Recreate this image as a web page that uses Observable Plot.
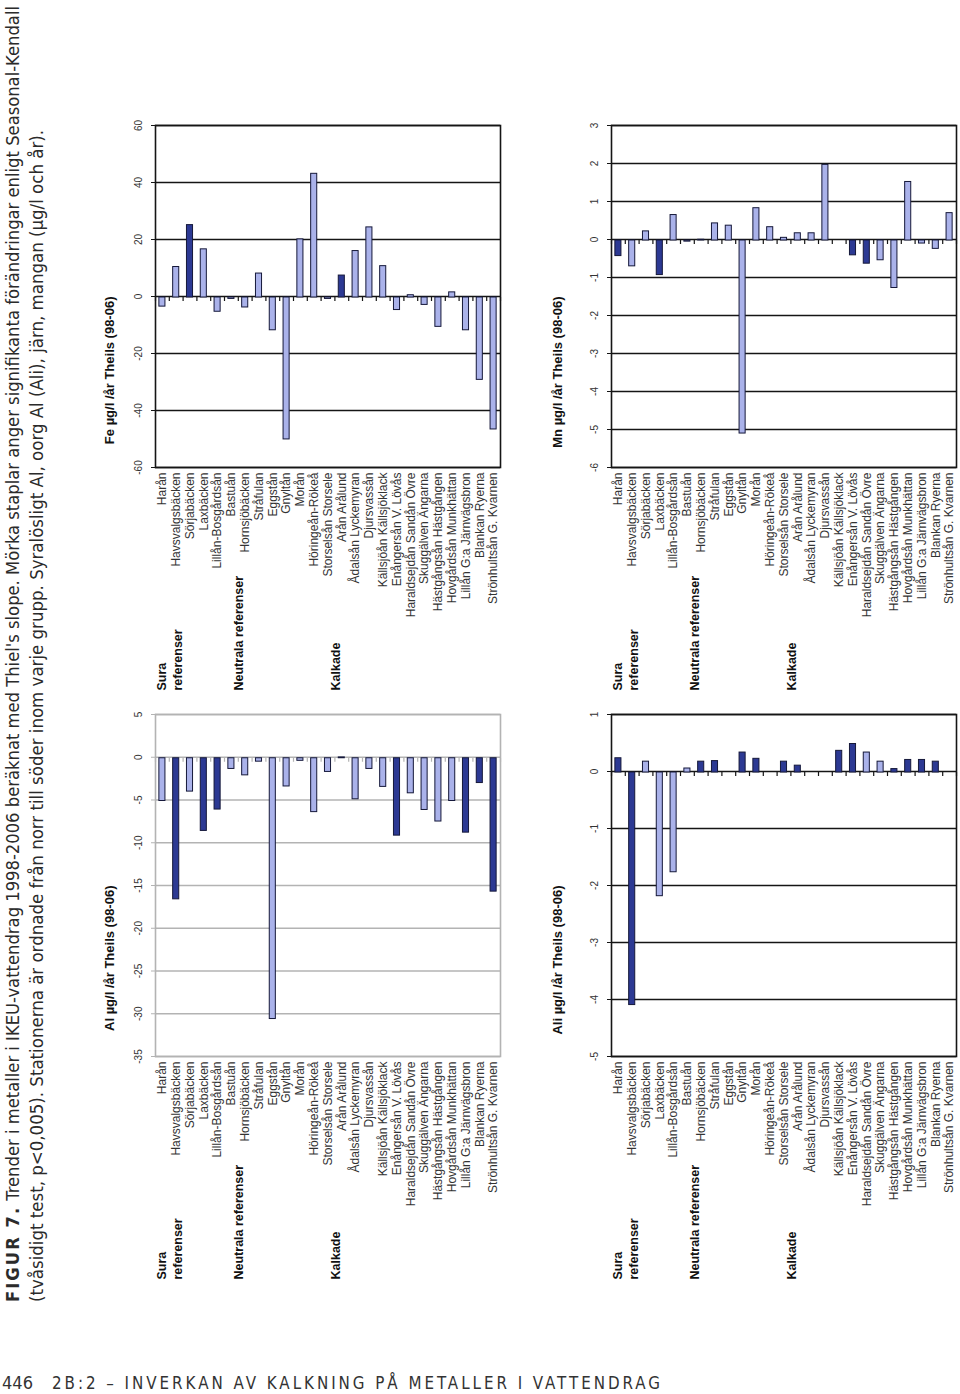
<!DOCTYPE html>
<html>
<head>
<meta charset="utf-8">
<script src="https://cdn.jsdelivr.net/npm/d3@7"></script>
<script src="https://cdn.jsdelivr.net/npm/@observablehq/plot@0.6"></script>
<style>
  html, body { margin: 0; padding: 0; background: #fff; width: 960px; height: 1394px; overflow: hidden; }
  #rot { position: absolute; left: 0; top: 0; width: 1310px; height: 960px;
         transform-origin: 0 0; transform: translate(0px, 1310px) rotate(-90deg); }
  .chart { position: absolute; line-height: 0; }
  .chart svg { display: block; }
  #caption { position: absolute; left: 0; top: 0; overflow: visible; }
  #footer { position: absolute; left: 0; top: 1366px; }
</style>
</head>
<body>
<div id="rot">
  <svg id="caption" width="1320" height="60">
    <text x="8" y="19" font-size="18" fill="#2b2b2b" textLength="1296" lengthAdjust="spacingAndGlyphs"
      font-family="'Liberation Sans Narrow','DejaVu Sans Condensed','Liberation Sans',sans-serif"><tspan font-weight="bold" letter-spacing="2">FIGUR 7.</tspan> Trender i metaller i IKEU-vattendrag 1998-2006 beräknat med Thiel's slope. Mörka staplar anger signifikanta förändringar enligt Seasonal-Kendall</text>
    <text x="8" y="43" font-size="18" fill="#2b2b2b" textLength="1172" lengthAdjust="spacingAndGlyphs"
      font-family="'Liberation Sans Narrow','DejaVu Sans Condensed','Liberation Sans',sans-serif">(tvåsidigt test, p&lt;0,005). Stationerna är ordnade från norr till söder inom varje grupp. Syralösligt Al, oorg Al (Ali), järn, mangan (µg/l och år).</text>
  </svg>
  <div id="c1" class="chart" style="left:20px;top:95px"></div>
  <div id="c2" class="chart" style="left:609px;top:95px"></div>
  <div id="c3" class="chart" style="left:20px;top:551px"></div>
  <div id="c4" class="chart" style="left:609px;top:551px"></div>
</div>
<svg id="footer" width="700" height="27">
  <text x="2" y="23" font-size="17" fill="#333" textLength="31" lengthAdjust="spacingAndGlyphs"
    font-family="'Liberation Sans Narrow','DejaVu Sans Condensed','Liberation Sans',sans-serif">446</text>
  <text x="52" y="23" font-size="17" fill="#333" letter-spacing="3" textLength="611" lengthAdjust="spacingAndGlyphs"
    font-family="'Liberation Sans Narrow','DejaVu Sans Condensed','Liberation Sans',sans-serif">2B:2 – INVERKAN AV KALKNING PÅ METALLER I VATTENDRAG</text>
</svg>
<script>
// ---- data ----
const stations = [
  "Harån", "Havsvalgsbäcken", "Sörjabäcken", "Laxbäcken", "Lillån-Bosgårdsån",
  "Bastuån", "Hornsjöbäcken", "Stråfulan", "Eggstån", "Gnyltån", "Morån",
  "Höringeån-Rökeå", "Storselsån Storsele", "Arån Arålund", "Ådalsån Lyckemyran",
  "Djursvassån", "Källsjöån Källsjöklack", "Enångersån V. Lövås",
  "Haraldsejdån Sandån Övre", "Skuggälven Ängarna", "Hästgångsån Hästgången",
  "Hovgårdsån Munkhättan", "Lillån G:a Järnvägsbron", "Blankan Ryerna",
  "Strönhultsån G. Kvarnen"
];
const groupLabels = ["Sura\nreferenser", "Neutrala referenser", "Kalkade"];
const groupAnchors = ["Harån", "Bastuån", "Storselsån Storsele"];

const alTitle = "Al µg/l /år Theils (98-06)";
const alTicks = [-35, -30, -25, -20, -15, -10, -5, 0, 5];
const alValues = [-5.0, -16.5, -3.9, -8.5, -6.0, -1.25, -2.0, -0.4, -30.5, -3.3, -0.3, -6.3, -1.6,
                  0.1, -4.8, -1.25, -3.35, -9.05, -4.1, -6.05, -7.4, -5.0, -8.7, -2.9, -15.6];
const alSig = [0,1,0,1,1,0,0,0,0,0,0,0,0,0,0,0,0,1,0,0,0,0,1,1,1];

const feTitle = "Fe µg/l /år Theils (98-06)";
const feTicks = [-60, -40, -20, 0, 20, 40, 60];
const feValues = [-3.2, 10.7, 25.4, 16.9, -5.0, -0.5, -3.5, 8.4, -11.5, -49.8, 20.4, 43.4, -0.5,
                  7.7, 16.3, 24.6, 11.0, -4.4, 0.8, -2.6, -10.3, 1.8, -11.5, -28.9, -46.3];
const feSig = [0,0,1,0,0,0,0,0,0,0,0,0,0,1,0,0,0,0,0,0,0,0,0,0,0];

const aliTitle = "Ali µg/l /år Theils (98-06)";
const aliTicks = [-5, -4, -3, -2, -1, 0, 1];
const aliValues = [0.25, -4.08, 0.19, -2.17, -1.75, 0.07, 0.19, 0.2, 0, 0.35, 0.24, 0, 0.19,
                   0.12, 0, 0, 0.38, 0.5, 0.35, 0.19, 0.06, 0.22, 0.22, 0.19, 0];
const aliSig = [1,1,0,0,0,0,1,1,0,1,1,0,1,1,0,0,1,1,0,0,1,1,1,1,0];

const mnTitle = "Mn µg/l /år Theils (98-06)";
const mnTicks = [-6, -5, -4, -3, -2, -1, 0, 1, 2, 3];
const mnValues = [-0.41, -0.68, 0.24, -0.91, 0.67, -0.03, 0.02, 0.45, 0.39, -5.08, 0.85, 0.35, 0.07,
                  0.19, 0.19, 1.99, 0, -0.39, -0.61, -0.52, -1.25, 1.54, -0.08, -0.22, 0.72];
const mnSig = [1,0,0,1,0,0,0,0,0,0,0,0,0,0,0,0,0,1,1,0,0,0,0,0,0];

// ---- drawing ----
const LIGHT = "#aab2ea", DARK = "#2c3993";
const W = 580, H = 415, ML = 233, MR = 5, MT = 60, MB = 10;
const step = (H - MT - MB) / stations.length;

function chart(values, sig, ticks, title, grid, titleDy) {
  const data = stations.map((s, i) => ({station: s, value: values[i], sig: sig[i]}));
  const groups = groupLabels.map((g, i) => ({label: g, station: groupAnchors[i]}));
  const fmt = d => String(d);
  return Plot.plot({
    width: W, height: H,
    marginLeft: ML, marginRight: MR, marginTop: MT, marginBottom: MB,
    style: {fontFamily: "'Liberation Sans', Arial, sans-serif", background: "transparent", color: "#333", overflow: "visible"},
    x: {domain: [ticks[0], ticks[ticks.length - 1]]},
    y: {domain: stations, paddingInner: 0.56, paddingOuter: 0.28, round: false},
    color: {type: "ordinal", domain: [0, 1], range: [LIGHT, DARK]},
    marks: [
      Plot.gridX({ticks, stroke: grid, strokeOpacity: 1, strokeWidth: 1.6}),
      Plot.frame({stroke: grid, strokeWidth: 1.6}),
      Plot.axisX({anchor: "top", ticks, tickFormat: fmt, tickSize: 5, tickPadding: 9, fontSize: 10,
                  stroke: grid, label: null}),
      Plot.axisY({tickSize: 0, tickPadding: 5, fontSize: 12, label: null}),
      Plot.ruleY(stations, {y: d => d, x1: 0, x2: 0, insetLeft: -4, dy: step / 2, stroke: grid, strokeWidth: 1.2}),
      Plot.ruleY(stations.slice(0, 1), {y: d => d, x1: 0, x2: 0, insetLeft: -4, dy: -step / 2, stroke: grid, strokeWidth: 1.2}),
      Plot.barX(data, {x: "value", y: "station", fill: "sig", stroke: "#15183a", strokeWidth: 1}),
      Plot.text(groups, {y: "station", text: "label", frameAnchor: "left", textAnchor: "start",
                         dx: -(ML - 10), dy: step / 2, fontWeight: "bold", fontSize: 12.5,
                         lineHeight: 1.25, fill: "#111"}),
      Plot.text([title], {frameAnchor: "top", textAnchor: "end", dy: titleDy,
                          fontWeight: "bold", fontSize: 13, fill: "#111"})
    ]
  });
}

document.getElementById("c1").append(chart(alValues, alSig, alTicks, alTitle, "#b3b3b3", -51));
document.getElementById("c2").append(chart(feValues, feSig, feTicks, feTitle, "#151515", -51));
document.getElementById("c3").append(chart(aliValues, aliSig, aliTicks, aliTitle, "#151515", -59));
document.getElementById("c4").append(chart(mnValues, mnSig, mnTicks, mnTitle, "#151515", -59));
</script>
</body>
</html>
